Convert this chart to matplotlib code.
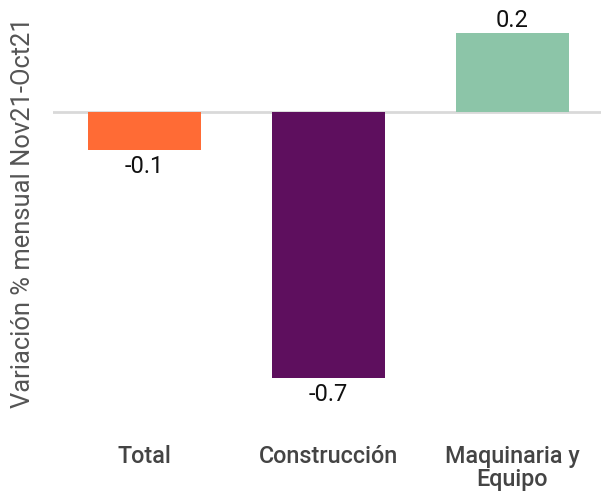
import matplotlib.pyplot as plt

categories = ["Total", "Construcción", "Maquinaria y\nEquipo"]
values = [-0.1, -0.7, 0.208]
labels = ["-0.1", "-0.7", "0.2"]
colors = ["#FF6B35", "#5E0F5E", "#8CC5A8"]

plt.rcParams['font.family'] = ['Roboto', 'DejaVu Sans']

fig = plt.figure(figsize=(6.01, 4.94), dpi=100)
ax = fig.add_axes([52.5 / 601, 1 - 430 / 494, 552 / 601, 430 / 494])

x = range(len(categories))
bars = ax.bar(x, values, width=0.614, color=colors, zorder=2)
ax.axhline(0, color="#d9d9d9", linewidth=2, zorder=1)

for xi, v, lab in zip(x, values, labels):
    off = 9 if v > 0 else -12
    ax.annotate(lab, (xi, v), xytext=(0, off), textcoords="offset points",
                ha="center", va="center", fontsize=17, color="#111111")

ax.set_xlim(-0.5, 2.5)
ax.set_ylim(-(430 - 112) / 380, 112 / 380)
ax.set_xticks(list(x))
ax.set_xticklabels(categories, fontsize=16.8, fontweight="medium", color="#444444",
                   linespacing=1.05)
ax.tick_params(axis="x", length=0, pad=10.5)
ax.set_yticks([])
for s in ax.spines.values():
    s.set_visible(False)

fig.text(23 / 601, 1 - 213 / 494, "Variación % mensual Nov21-Oct21", rotation=90,
         ha="center", va="center", fontsize=18.4, color="#555555")

fig.savefig("out.png", dpi=100)
